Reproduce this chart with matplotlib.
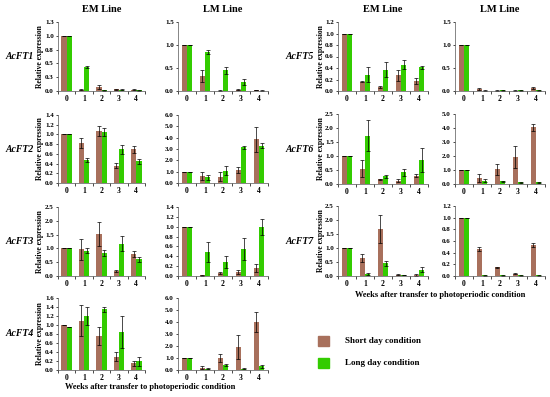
import numpy as np
import matplotlib.pyplot as plt

plt.rcParams['font.family'] = 'Liberation Serif'
plt.rcParams['font.weight'] = 'bold'

weeks = ['0', '1', '2', '3', '4']
sd_color = '#A8705C'
ld_color = '#33CC00'

# values (short day / long day, mean and error)
ft1_em_sd = [1.0, 0.02, 0.07, 0.03, 0.02]
ft1_em_sd_err = [0, 0.01, 0.03, 0.01, 0.01]
ft1_em_ld = [1.0, 0.43, 0.01, 0.02, 0.01]
ft1_em_ld_err = [0, 0.02, 0.005, 0.01, 0.005]
ft1_lm_sd = [1.0, 0.33, 0.01, 0.03, 0.02]
ft1_lm_sd_err = [0, 0.13, 0.005, 0.01, 0.005]
ft1_lm_ld = [1.0, 0.85, 0.45, 0.2, 0.01]
ft1_lm_ld_err = [0, 0.05, 0.08, 0.07, 0.005]

ft2_em_sd = [1.0, 0.83, 1.07, 0.36, 0.69]
ft2_em_sd_err = [0, 0.1, 0.1, 0.06, 0.08]
ft2_em_ld = [1.0, 0.48, 1.05, 0.69, 0.45]
ft2_em_ld_err = [0, 0.04, 0.08, 0.1, 0.05]
ft2_lm_sd = [1.0, 0.6, 0.55, 1.15, 3.85]
ft2_lm_sd_err = [0, 0.35, 0.4, 0.3, 1.1]
ft2_lm_ld = [1.0, 0.5, 1.1, 3.15, 3.3]
ft2_lm_ld_err = [0, 0.25, 0.4, 0.15, 0.25]

ft3_em_sd = [1.0, 0.97, 1.52, 0.18, 0.8]
ft3_em_sd_err = [0, 0.38, 0.42, 0.02, 0.12]
ft3_em_ld = [1.0, 0.92, 0.83, 1.17, 0.6]
ft3_em_ld_err = [0, 0.08, 0.12, 0.27, 0.1]
ft3_lm_sd = [1.0, 0.02, 0.06, 0.09, 0.17]
ft3_lm_sd_err = [0, 0.01, 0.02, 0.04, 0.08]
ft3_lm_ld = [1.0, 0.49, 0.28, 0.55, 0.99]
ft3_lm_ld_err = [0, 0.2, 0.12, 0.22, 0.16]

ft4_em_sd = [1.0, 1.1, 0.75, 0.3, 0.15]
ft4_em_sd_err = [0, 0.35, 0.2, 0.1, 0.05]
ft4_em_ld = [0.95, 1.2, 1.35, 0.85, 0.2]
ft4_em_ld_err = [0, 0.2, 0.05, 0.35, 0.1]
ft4_lm_sd = [1.0, 0.2, 1.0, 1.9, 4.0]
ft4_lm_sd_err = [0, 0.1, 0.3, 1.0, 0.8]
ft4_lm_ld = [1.0, 0.1, 0.4, 0.1, 0.3]
ft4_lm_ld_err = [0, 0.05, 0.1, 0.05, 0.1]

ft5_em_sd = [1.0, 0.16, 0.07, 0.27, 0.18]
ft5_em_sd_err = [0, 0.01, 0.01, 0.1, 0.05]
ft5_em_ld = [1.0, 0.28, 0.37, 0.46, 0.41]
ft5_em_ld_err = [0, 0.13, 0.13, 0.08, 0.02]
ft5_lm_sd = [1.0, 0.04, 0.01, 0.01, 0.06]
ft5_lm_sd_err = [0, 0.02, 0.005, 0.005, 0.02]
ft5_lm_ld = [1.0, 0.01, 0.02, 0.02, 0.02]
ft5_lm_ld_err = [0, 0.005, 0.01, 0.01, 0.01]

ft6_em_sd = [1.0, 0.55, 0.17, 0.12, 0.3]
ft6_em_sd_err = [0, 0.3, 0.02, 0.05, 0.05]
ft6_em_ld = [1.0, 1.73, 0.27, 0.42, 0.85]
ft6_em_ld_err = [0, 0.55, 0.05, 0.12, 0.42]
ft6_lm_sd = [1.0, 0.42, 1.05, 1.95, 4.05]
ft6_lm_sd_err = [0, 0.3, 0.4, 0.8, 0.25]
ft6_lm_ld = [1.0, 0.25, 0.2, 0.12, 0.12]
ft6_lm_ld_err = [0, 0.1, 0.05, 0.03, 0.03]

ft7_em_sd = [1.0, 0.65, 1.67, 0.05, 0.03]
ft7_em_sd_err = [0, 0.15, 0.5, 0.01, 0.03]
ft7_em_ld = [1.0, 0.07, 0.45, 0.04, 0.23]
ft7_em_ld_err = [0, 0.02, 0.08, 0.01, 0.08]
ft7_lm_sd = [1.0, 0.46, 0.15, 0.04, 0.53]
ft7_lm_sd_err = [0, 0.03, 0.01, 0.005, 0.03]
ft7_lm_ld = [1.0, 0.01, 0.01, 0.01, 0.01]
ft7_lm_ld_err = [0, 0.005, 0.005, 0.005, 0.005]

W, H = 550, 397
fig = plt.figure(figsize=(5.5, 3.97), dpi=100)


def px_axes(x0, y0, x1, y1):
    # pixel box (top-left origin) -> figure axes
    return fig.add_axes([x0 / W, 1 - y1 / H, (x1 - x0) / W, (y1 - y0) / H])


def panel(box, sd, sd_err, ld, ld_err, ymax, step, labels=None):
    ax = px_axes(*box)
    x = np.arange(len(weeks))
    w = 0.3
    ax.bar(x - w / 2, sd, w, color=sd_color, yerr=sd_err,
           error_kw=dict(ecolor='black', elinewidth=0.5, capsize=1.2, capthick=0.5))
    ax.bar(x + w / 2, ld, w, color=ld_color, yerr=ld_err,
           error_kw=dict(ecolor='black', elinewidth=0.5, capsize=1.2, capthick=0.5))
    ax.set_xlim(-0.5, 4.5)
    ax.set_ylim(0, ymax)
    ticks = np.arange(0, ymax + step / 2, step)
    ax.set_yticks(ticks)
    if labels is None:
        labels = ['%.1f' % t for t in ticks]
    ax.set_yticklabels(labels)
    ax.set_xticks(x)
    ax.set_xticklabels(weeks)
    ax.set_xticks(np.arange(-0.5, 5, 1), minor=True)
    ax.tick_params(axis='x', which='major', length=0, pad=3, labelsize=5.5)
    ax.tick_params(axis='x', which='minor', length=2, width=0.5, direction='out')
    ax.tick_params(axis='y', length=1.5, width=0.5, pad=1.5, labelsize=5)
    for s in ['top', 'right']:
        ax.spines[s].set_visible(False)
    for s in ['left', 'bottom']:
        ax.spines[s].set_linewidth(0.5)
        ax.spines[s].set_color('#555555')
    ax.set_facecolor('none')
    return ax


# left group
lx_em = (58, 145)
lx_lm = (178, 268)
rows_left = [(22, 91), (115, 183), (207, 276), (298, 370)]
# right group
rx_em = (338, 428)
rx_lm = (455, 545)
rows_right = [(22, 91), (114, 184), (206, 276)]

left_data = [
    ('AcFT1', (ft1_em_sd, ft1_em_sd_err, ft1_em_ld, ft1_em_ld_err, 1.25, 0.25,
               ['0.0', '0.3', '0.5', '0.8', '1.0', '1.3']),
     (ft1_lm_sd, ft1_lm_sd_err, ft1_lm_ld, ft1_lm_ld_err, 1.5, 0.5, None)),
    ('AcFT2', (ft2_em_sd, ft2_em_sd_err, ft2_em_ld, ft2_em_ld_err, 1.4, 0.2, None),
     (ft2_lm_sd, ft2_lm_sd_err, ft2_lm_ld, ft2_lm_ld_err, 6.0, 1.0, None)),
    ('AcFT3', (ft3_em_sd, ft3_em_sd_err, ft3_em_ld, ft3_em_ld_err, 2.5, 0.5, None),
     (ft3_lm_sd, ft3_lm_sd_err, ft3_lm_ld, ft3_lm_ld_err, 1.4, 0.2, None)),
    ('AcFT4', (ft4_em_sd, ft4_em_sd_err, ft4_em_ld, ft4_em_ld_err, 1.6, 0.2, None),
     (ft4_lm_sd, ft4_lm_sd_err, ft4_lm_ld, ft4_lm_ld_err, 6.0, 1.0, None)),
]
right_data = [
    ('AcFT5', (ft5_em_sd, ft5_em_sd_err, ft5_em_ld, ft5_em_ld_err, 1.2, 0.2, None),
     (ft5_lm_sd, ft5_lm_sd_err, ft5_lm_ld, ft5_lm_ld_err, 1.5, 0.5, None)),
    ('AcFT6', (ft6_em_sd, ft6_em_sd_err, ft6_em_ld, ft6_em_ld_err, 2.5, 0.5, None),
     (ft6_lm_sd, ft6_lm_sd_err, ft6_lm_ld, ft6_lm_ld_err, 5.0, 1.0, None)),
    ('AcFT7', (ft7_em_sd, ft7_em_sd_err, ft7_em_ld, ft7_em_ld_err, 2.5, 0.5, None),
     (ft7_lm_sd, ft7_lm_sd_err, ft7_lm_ld, ft7_lm_ld_err, 1.2, 0.2, None)),
]


def group(data, rows, xem, xlm, gene_x, ylab_x):
    for (gene, em, lm), (y0, y1) in zip(data, rows):
        panel((xem[0], y0, xem[1], y1), *em)
        panel((xlm[0], y0, xlm[1], y1), *lm)
        yc = 1 - (y0 + y1) / 2 / H
        fig.text(gene_x / W, yc, gene, fontsize=7, style='italic',
                 fontweight='bold', ha='center', va='center')
        fig.text(ylab_x / W, yc, 'Relative expression', fontsize=5.5,
                 fontweight='bold', rotation=90, ha='center', va='center')
    fig.text((xem[0] + xem[1]) / 2 / W, 1 - 10 / H, 'EM Line', fontsize=7.5,
             fontweight='bold', ha='center', va='center')
    fig.text((xlm[0] + xlm[1]) / 2 / W, 1 - 10 / H, 'LM Line', fontsize=7.5,
             fontweight='bold', ha='center', va='center')


group(left_data, rows_left, lx_em, lx_lm, 20, 40)
group(right_data, rows_right, rx_em, rx_lm, 300, 321)

fig.text(150 / W, 1 - 387 / H, 'Weeks after transfer to photoperiodic condition',
         fontsize=6, fontweight='bold', ha='center', va='center')
fig.text(440 / W, 1 - 295 / H, 'Weeks after transfer to photoperiodic condition',
         fontsize=6, fontweight='bold', ha='center', va='center')

# legend
fig.patches.append(plt.Rectangle((318 / W, 1 - 346 / H), 11 / W, 10 / H,
                                 color=sd_color, transform=fig.transFigure))
fig.patches.append(plt.Rectangle((318 / W, 1 - 368 / H), 11 / W, 10 / H,
                                 color=ld_color, transform=fig.transFigure))
fig.text(345 / W, 1 - 341 / H, 'Short day condition', fontsize=6.5,
         fontweight='bold', ha='left', va='center')
fig.text(345 / W, 1 - 363 / H, 'Long day condition', fontsize=6.5,
         fontweight='bold', ha='left', va='center')

fig.savefig('out.png', dpi=100)
